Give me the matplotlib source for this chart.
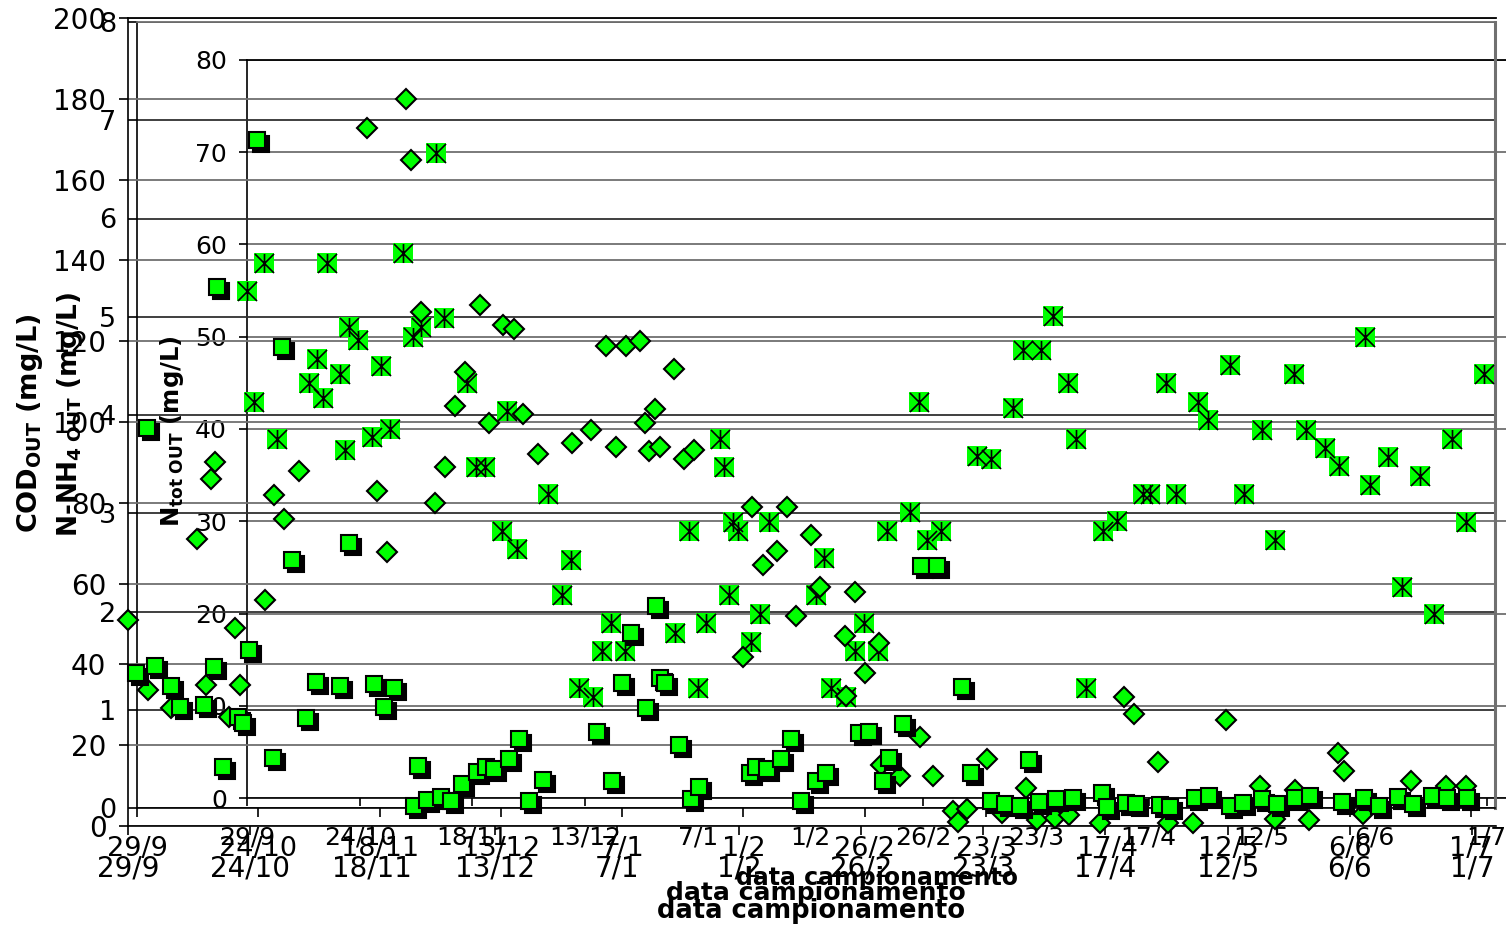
import numpy as np
import matplotlib
matplotlib.use("Agg")
import matplotlib.pyplot as plt
from matplotlib.path import Path
from matplotlib import transforms

# ---------------------------------------------------------------- data
# sampling dates are given as days after 29/9
date_labels = ["29/9", "24/10", "18/11", "13/12", "7/1", "1/2", "26/2",
               "23/3", "17/4", "12/5", "6/6", "1/7"]
tick_days = [0, 25, 50, 75, 100, 125, 150, 175, 200, 225, 250, 275]

# COD out (mg/L)
cod_day = [1.6, 3.9, 5.5, 8.8, 10.6, 15.5, 17.6, 18.2, 19.4, 22.5, 23.5, 24.8,
           26.4, 29.7, 31.5, 33.6, 36.4, 38.5, 43.4, 45.2, 50.3, 52.4, 54.4,
           58.5, 59.3, 61.2, 64.0, 66.1, 68.3, 71.4, 73.2, 74.9, 77.9, 80.0,
           82.0, 84.9, 95.9, 99.0, 101.1, 102.9, 106.0, 108.0, 108.8, 109.9,
           112.7, 115.2, 116.8, 127.3, 128.5, 130.7, 133.6, 135.6, 137.7,
           140.8, 142.8, 149.5, 151.6, 154.5, 155.7, 158.6, 162.2, 165.5,
           170.6, 172.5, 176.6, 179.4, 182.5, 184.3, 186.4, 189.9, 193.3,
           199.3, 200.3, 204.2, 206.2, 211.1, 213.2, 218.3, 221.2, 225.5,
           228.1, 232.0, 235.1, 238.7, 241.8, 248.4, 252.9, 255.9, 259.8,
           262.9, 266.8, 269.8, 273.9]
cod_val = [37.9, 98.5, 39.6, 34.7, 29.5, 30.0, 39.4, 133.4, 14.6, 27.0, 25.5,
           43.6, 169.8, 16.8, 118.6, 65.8, 26.7, 35.6, 34.7, 70.0, 35.1, 29.5,
           34.2, 5.0, 14.9, 6.4, 7.2, 6.2, 10.4, 13.4, 14.6, 14.1, 16.6, 21.5,
           6.2, 11.4, 23.3, 11.1, 35.4, 47.8, 29.2, 54.5, 36.6, 35.4, 20.0,
           6.7, 9.7, 13.1, 14.6, 14.1, 16.6, 21.5, 6.2, 11.1, 13.1, 23.0,
           23.3, 11.1, 16.8, 25.2, 64.4, 64.4, 34.4, 13.1, 6.2, 5.4, 5.0,
           16.3, 5.9, 6.7, 6.9, 8.2, 4.7, 5.7, 5.4, 5.2, 4.7, 6.9, 7.4, 5.0,
           5.7, 6.7, 5.4, 6.9, 7.4, 5.9, 6.9, 5.0, 7.2, 5.4, 7.4, 6.9, 6.9]

# N-NH4 out (mg/L)
nh4_day = [-1.9, 2.3, 7.0, 12.4, 14.2, 15.3, 16.1, 19.0, 20.2, 21.2, 26.4,
           28.2, 30.3, 33.4, 47.4, 49.5, 51.5, 55.4, 56.5, 58.5, 61.4, 63.5,
           65.5, 67.6, 70.7, 72.5, 75.4, 77.7, 79.6, 82.6, 89.7, 93.6, 96.7,
           98.7, 100.8, 103.7, 104.7, 105.5, 106.8, 107.8, 110.7, 112.7,
           114.8, 124.9, 126.8, 129.0, 131.9, 134.0, 135.8, 138.9, 140.8,
           145.9, 146.1, 148.0, 150.0, 152.9, 153.3, 157.3, 161.4, 164.1,
           168.2, 169.2, 171.1, 175.2, 178.3, 183.2, 185.5, 189.2, 192.1,
           198.5, 203.4, 205.5, 210.4, 212.5, 217.6, 224.4, 231.5, 234.5,
           238.7, 241.6, 247.5, 248.8, 252.7, 262.6, 269.8, 273.9]
nh4_val = [1.91, 1.20, 1.02, 2.74, 1.25, 3.35, 3.52, 0.93, 1.83, 1.25, 2.12,
           3.19, 2.94, 3.43, 6.92, 3.23, 2.61, 7.22, 6.60, 5.05, 3.10, 3.47,
           4.09, 4.44, 5.12, 3.92, 4.92, 4.88, 4.01, 3.60, 3.72, 3.85, 4.70,
           3.67, 4.70, 4.75, 3.92, 3.63, 4.06, 3.67, 4.47, 3.55, 3.64, 1.54,
           3.06, 2.47, 2.62, 3.06, 1.95, 2.78, 2.25, 1.75, 1.14, 2.20, 1.37,
           1.68, 0.44, 0.33, 0.72, 0.33, -0.03, -0.14, -0.01, 0.50, -0.05,
           0.20, -0.12, -0.10, -0.07, -0.15, 1.13, 0.96, 0.47, -0.15, -0.15,
           0.90, 0.22, -0.11, 0.18, -0.12, 0.56, 0.38, -0.06, 0.27, 0.22,
           0.22]

# N tot out (mg/L)
ntot_day = [0.0, 1.6, 3.8, 6.7, 13.8, 15.5, 16.9, 17.7, 20.6, 21.7, 22.6,
            24.6, 27.7, 29.7, 31.7, 34.6, 36.8, 38.6, 41.9, 43.7, 48.8, 50.8,
            52.8, 56.6, 57.7, 59.9, 66.8, 69.9, 71.9, 73.6, 76.8, 78.7, 80.7,
            83.9, 94.9, 98.0, 100.0, 101.8, 104.9, 105.8, 106.9, 107.8,
            108.9, 111.8, 113.8, 115.8, 126.2, 128.0, 129.5, 132.9, 134.9,
            136.9, 140.0, 142.0, 147.1, 149.1, 150.8, 154.0, 161.9, 165.0,
            169.9, 172.1, 176.1, 178.8, 182.1, 183.9, 186.1, 189.9, 193.0,
            198.8, 200.3, 203.9, 206.1, 211.0, 213.2, 218.1, 221.2, 225.2,
            228.0, 232.3, 234.9, 239.1, 242.2, 248.0, 249.1, 253.1, 256.2,
            260.2, 263.3, 267.3, 270.4, 274.4]
ntot_val = [55.0, 42.9, 58.0, 38.9, 45.0, 47.6, 43.4, 58.0, 46.0, 37.7, 51.1,
            49.6, 39.1, 46.8, 40.0, 59.1, 50.0, 51.1, 69.9, 52.0, 45.0, 35.9,
            35.9, 28.9, 42.0, 27.0, 33.0, 22.0, 25.8, 11.9, 11.0, 15.9, 19.0,
            15.9, 17.9, 28.9, 11.9, 19.0, 38.9, 35.9, 22.0, 29.9, 28.9, 16.9,
            19.9, 29.9, 22.0, 26.0, 11.9, 11.0, 15.9, 19.0, 15.9, 28.9, 31.0,
            42.9, 28.0, 28.9, 37.1, 36.7, 42.3, 48.6, 48.6, 52.2, 45.0, 38.9,
            11.9, 28.9, 30.0, 33.0, 33.0, 45.0, 33.0, 42.9, 41.0, 46.9, 33.0,
            39.9, 28.0, 46.0, 39.9, 37.9, 36.0, 50.0, 33.9, 37.0, 22.9, 34.9,
            19.9, 38.9, 29.9, 46.0]

# ---------------------------------------------------------------- layout
W, H = 1506, 926
fig = plt.figure(figsize=(W / 100, H / 100), dpi=100)
GREEN = "#00ff00"


def rect_px(left, top, right, bottom):
    return [left / W, 1 - bottom / H, (right - left) / W, (bottom - top) / H]


def frame(rect, xmax, ymax, ystep, fsx, fsy, padx, pady, gcol, tlen):
    ax = fig.add_axes(rect)
    ax.set_facecolor("none")
    ax.set_xlim(0, xmax)
    ax.set_ylim(0, ymax)
    ax.set_xticks(tick_days)
    ax.set_xticklabels(date_labels)
    ax.set_yticks(np.arange(0, ymax + 0.01, ystep))
    ax.yaxis.set_major_formatter(matplotlib.ticker.FormatStrFormatter("%d"))
    for s in ("top", "right"):
        ax.spines[s].set_visible(False)
    for s in ("left", "bottom"):
        ax.spines[s].set_color("black")
        ax.spines[s].set_linewidth(1.2)
    ax.tick_params(axis="x", direction="out", length=tlen, width=1.2,
                   labelsize=fsx, pad=padx)
    ax.tick_params(axis="y", direction="out", length=tlen, width=1.2,
                   labelsize=fsy, pad=pady)
    ax.grid(axis="y", color=gcol, linewidth=1.3)
    ax.grid(axis="x", visible=False)
    return ax


def overlay(rect, xmax, ymax):
    ax = fig.add_axes(rect)
    ax.set_xlim(0, xmax)
    ax.set_ylim(0, ymax)
    ax.set_axis_off()
    return ax


r_ntot = rect_px(247, 60, 247 + 280 * 4.508, 798)
r_nh4 = rect_px(137, 22, 1495, 808)
r_cod = rect_px(128, 18, 1496, 826)

# axis frames, gridlines and tick labels (back to front)
f_ntot = frame(r_ntot, 280, 80, 10, 18, 18, 14, 8.5, "#707070", 6)
f_nh4 = frame(r_nh4, 279.9, 8, 1, 19.5, 19.5, 13.5, 8.5, "#303030", 6.5)
f_cod = frame(r_cod, 279.9, 200, 20, 20, 20, 14, 9, "#707070", 6.5)
f_nh4.spines["right"].set_visible(True)
f_nh4.spines["right"].set_color("#707070")
f_nh4.spines["right"].set_linewidth(2.2)
f_nh4.spines["top"].set_visible(True)
f_nh4.spines["top"].set_color("#707070")
f_nh4.spines["top"].set_linewidth(1.3)
f_cod.spines["top"].set_visible(True)
f_cod.spines["top"].set_color("black")
f_cod.spines["top"].set_linewidth(1.3)
f_ntot.spines["top"].set_visible(True)
f_ntot.spines["top"].set_color("black")
f_ntot.spines["top"].set_linewidth(1.3)

# markers, all above every gridline
m_ntot = overlay(r_ntot, 280, 80)
m_nh4 = overlay(r_nh4, 279.9, 8)
m_cod = overlay(r_cod, 279.9, 200)

star = Path([(-1, -1), (1, 1), (-1, 1), (1, -1), (0, -1), (0, 1)],
            [Path.MOVETO, Path.LINETO, Path.MOVETO, Path.LINETO,
             Path.MOVETO, Path.LINETO])
m_ntot.plot(ntot_day, ntot_val, ls="none", marker="s", ms=13.7, mfc=GREEN,
            mec="none", mew=0, clip_on=False)
m_ntot.plot(ntot_day, ntot_val, ls="none", marker=star, ms=13.7, mfc="none",
            mec="black", mew=1.2, clip_on=False)

m_nh4.plot(nh4_day, nh4_val, ls="none", marker="D", ms=10.2, mfc=GREEN,
           mec="black", mew=1.5, clip_on=False)

shadow = transforms.offset_copy(m_cod.transData, fig=fig, x=4, y=-4,
                                units="dots")
m_cod.plot(cod_day, cod_val, ls="none", marker="s", ms=12.2, mfc="black",
           mec="black", mew=1.5, clip_on=False, transform=shadow)
m_cod.plot(cod_day, cod_val, ls="none", marker="s", ms=12.2, mfc=GREEN,
           mec="black", mew=1.5, clip_on=False)

# axis titles
fig.text(30 / W, 1 - 423 / H, r"COD$_{\mathbf{OUT}}$ (mg/L)", rotation=90,
         ha="center", va="center", fontsize=19.5, fontweight="bold")
fig.text(70 / W, 1 - 414 / H, r"N-NH$_{\mathbf{4\ OUT}}$ (mg/L)", rotation=90,
         ha="center", va="center", fontsize=19, fontweight="bold")
fig.text(172 / W, 1 - 431 / H, r"N$_{\mathbf{tot\ OUT}}$ (mg/L)", rotation=90,
         ha="center", va="center", fontsize=17.5, fontweight="bold")

fig.text(877 / W, 1 - 878 / H, "data campionamento", ha="center",
         va="center", fontsize=17, fontweight="bold")
fig.text(816 / W, 1 - 893 / H, "data campionamento", ha="center",
         va="center", fontsize=18, fontweight="bold")
fig.text(811 / W, 1 - 911 / H, "data campionamento", ha="center",
         va="center", fontsize=18.6, fontweight="bold")

fig.savefig("out.png", dpi=100)
